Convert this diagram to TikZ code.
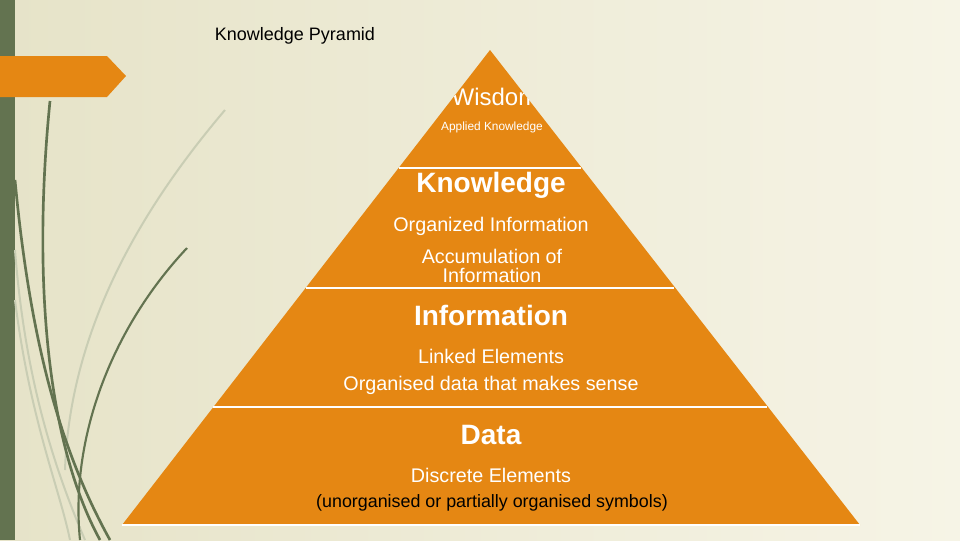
\documentclass[tikz,border=0pt]{standalone}
\usepackage{fontspec}
\setmainfont{Liberation Sans}
\definecolor{bgl}{HTML}{E6E3C8}
\definecolor{bgr}{HTML}{F6F4E6}
\definecolor{strip}{HTML}{637350}
\definecolor{org}{HTML}{E58713}
\definecolor{grassd}{HTML}{637350}
\definecolor{grassl}{HTML}{C9CDB4}
\tikzset{lbl/.style={text=white,font=#1,inner sep=0pt,align=center},
 grassdark/.style={draw=grassd,line width=2pt},
 grasslight/.style={draw=grassl,line width=1.5pt},
 sep/.style={draw=white,line width=1.5pt}}
\begin{document}
\begin{tikzpicture}[x=0.75pt,y=-0.75pt]
\useasboundingbox (0,0) rectangle (960,540);
\shade[left color=bgl,right color=bgr] (0,0) rectangle (960,540);
\fill[strip] (0,0) rectangle (15,540);
\fill[org] (0,56) -- (107,56) -- (126,76) -- (107,97) -- (0,97) -- cycle;
% grass
\draw[grasslight] (225,110) .. controls (140,210) and (70,330) .. (65,470);
\draw[grasslight] (15,250) .. controls (25,380) and (55,470) .. (85,540);
\draw[grasslight] (15,300) .. controls (30,420) and (60,490) .. (70,540);
\draw[grassdark] (50,101) .. controls (35,250) and (40,430) .. (100,540);
\draw[grassdark] (15,180) .. controls (30,340) and (60,450) .. (110,540);
\draw[grassdark,line width=1.6pt] (187,248) .. controls (110,330) and (70,440) .. (80,540);
% pyramid
\coordinate (apex) at (490,50);
\coordinate (bl) at (122,525);
\coordinate (br) at (860,525);
\fill[org] (apex) -- (br) -- (bl) -- cycle;
\draw[white,line width=1pt] (br) -- (bl);
\foreach \y/\dx in {168/91.4,288/184.4,407/276.6}{
  \draw[sep] (490-\dx,\y) -- (490+\dx,\y);
}
\node[font=\fontsize{13.5}{16}\selectfont,inner sep=0pt] (title) at (295,36) {Knowledge Pyramid};
\begin{scope}
\clip (apex) -- (br) -- (bl) -- cycle;
\node[lbl=\fontsize{18}{20}\selectfont] (w) at (495,97) {Wisdom};
\end{scope}
\node[lbl=\fontsize{8.9}{10}\selectfont] (wa) at (492,127) {Applied Knowledge};
\node[lbl=\fontsize{21}{24}\selectfont\bfseries] (k) at (491,185) {Knowledge};
\node[lbl=\fontsize{14.8}{17}\selectfont] (k1) at (491,226) {Organized Information};
\node[lbl=\fontsize{14.8}{16}\selectfont] (k2) at (492,266) {Accumulation of\\[-2pt]Information};
\node[lbl=\fontsize{21}{24}\selectfont\bfseries] (i) at (491,315) {Information};
\node[lbl=\fontsize{14.8}{17}\selectfont] (i1) at (491,356) {Linked Elements};
\node[lbl=\fontsize{14.8}{17}\selectfont] (i2) at (491,385) {Organised data that makes sense};
\node[lbl=\fontsize{21}{24}\selectfont\bfseries] (d) at (491,435) {Data};
\node[lbl=\fontsize{14.8}{17}\selectfont] (d1) at (491,475) {Discrete Elements};
\node[text=black,font=\fontsize{13.4}{16}\selectfont,inner sep=0pt] (d2) at (492,503) {(unorganised or partially organised symbols)};
\end{tikzpicture}
\end{document}
